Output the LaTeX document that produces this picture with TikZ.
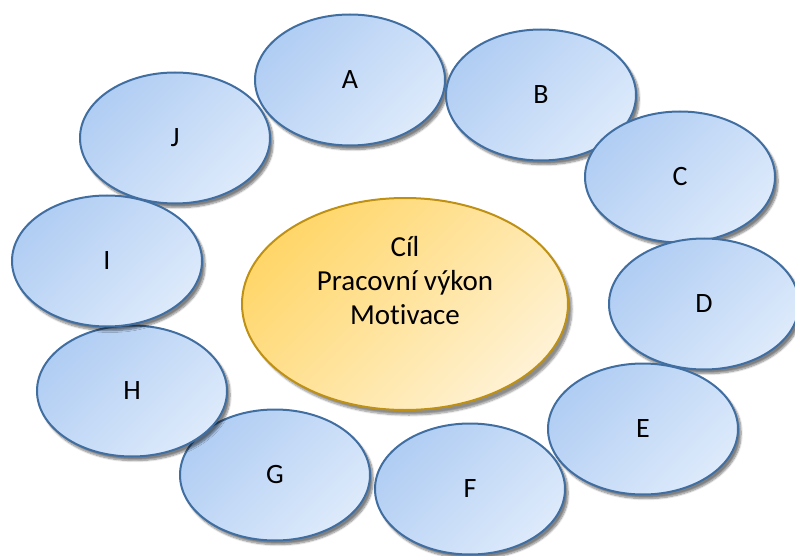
\documentclass[tikz,border=0pt]{standalone}
\usepackage{fontspec}
\setmainfont{Carlito}[Ligatures=NoCommon]
\usetikzlibrary{shapes.geometric,shadows.blur}
\definecolor{bdark}{RGB}{176,205,243}
\definecolor{blight}{RGB}{221,234,251}
\definecolor{bline}{RGB}{65,110,160}
\definecolor{gdark}{RGB}{255,214,105}
\definecolor{glight}{RGB}{255,242,212}
\definecolor{gline}{RGB}{190,145,20}
\tikzset{
  outer/.style={ellipse, draw=bline, line width=2pt, shade, top color=bdark, bottom color=blight, shading angle=45,
    minimum width=190pt, minimum height=131pt, inner sep=0pt,
    font=\fontsize{28}{32}\selectfont,
    blur shadow={shadow xshift=3pt, shadow yshift=-4pt, shadow blur steps=8, shadow blur extra rounding=2pt, shadow opacity=50}},
  inner/.style={ellipse, draw=gline, line width=2pt, shade, top color=gdark, bottom color=glight, shading angle=45,
    minimum width=326pt, minimum height=212pt, inner sep=0pt,
    blur shadow={shadow xshift=4pt, shadow yshift=-5pt, shadow blur steps=8, shadow opacity=45}},
  innertext/.style={align=center, font=\fontsize{29}{34}\selectfont, inner sep=0pt}
}
\begin{document}
\begin{tikzpicture}[x=1pt,y=-1pt]
\useasboundingbox (0,0) rectangle (795,556);
\node[inner] (goal) at (405,304) {};
\node[innertext] (goaltext) at (405,281) {Cíl\\Pracovní výkon\\Motivace};
\node[outer] (J) at (175,138) {J};
\node[outer] (A) at (350,80) {A};
\node[outer] (B) at (541,95) {B};
\node[outer] (C) at (680,177) {C};
\node[outer] (D) at (704,304) {D};
\node[outer] (E) at (643,429) {E};
\node[outer] (F) at (470,489) {F};
\node[outer] (G) at (275,475) {G};
\node[outer] (H) at (132,391) {H};
\node[outer] (I) at (107,261) {I};
\end{tikzpicture}
\end{document}
